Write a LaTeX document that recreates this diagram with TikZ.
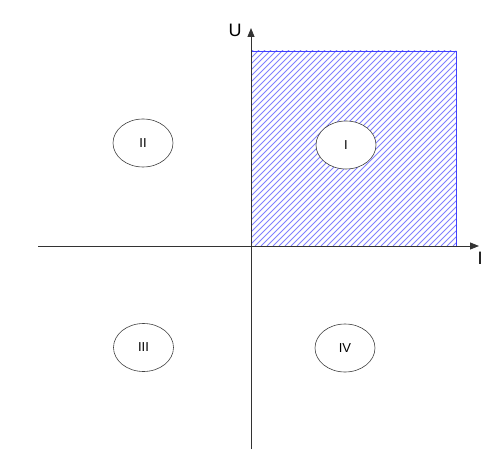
\documentclass[tikz,border=0pt]{standalone}
\usepackage{fontspec}
\setmainfont{Liberation Sans}
\usetikzlibrary{arrows.meta,shapes.geometric}
\definecolor{hatchblue}{RGB}{128,128,255}
\definecolor{edgeblue}{RGB}{64,64,255}
\begin{document}
\begin{tikzpicture}[x=1pt,y=-1pt,
  axis/.style={draw=black!80,line width=0.9pt,-{Triangle[length=9pt,width=7pt]}},
  zone/.style={draw=black!75,fill=white,ellipse,line width=0.6pt,minimum width=60pt,minimum height=48pt,inner sep=0pt,font=\fontsize{13}{13}\selectfont},
  axlabel/.style={inner sep=0pt,font=\fontsize{18}{18}\selectfont}]
\useasboundingbox (0,0) rectangle (495,462);
\fill[white] (0,0) rectangle (495,462);
% hatched region
\coordinate (r1) at (251,51);
\coordinate (r2) at (456,246);
\begin{scope}
\clip (r1) rectangle (r2);
\foreach \k in {0,6,...,420}
  \draw[hatchblue,line width=0.8pt] (251+\k-200,246) -- ++(200,-200);
\end{scope}
\draw[edgeblue,line width=0.9pt] (r1) rectangle (r2);
% axes
\coordinate (xs) at (38,246);
\coordinate (xe) at (479,246);
\coordinate (ys) at (251,449);
\coordinate (ye) at (251,28);
\draw[axis] (xs) -- (xe);
\draw[axis] (ys) -- (ye);
\node[axlabel] (U) at (235,30.5) {U};
\node[axlabel] (Il) at (480,258.5) {I};
% quadrant labels
\node[zone] (q1) at (346,145) {I};
\node[zone] (q2) at (143,143) {II};
\node[zone] (q3) at (143.5,347.5) {III};
\node[zone] (q4) at (345,348) {IV};
\end{tikzpicture}
\end{document}
